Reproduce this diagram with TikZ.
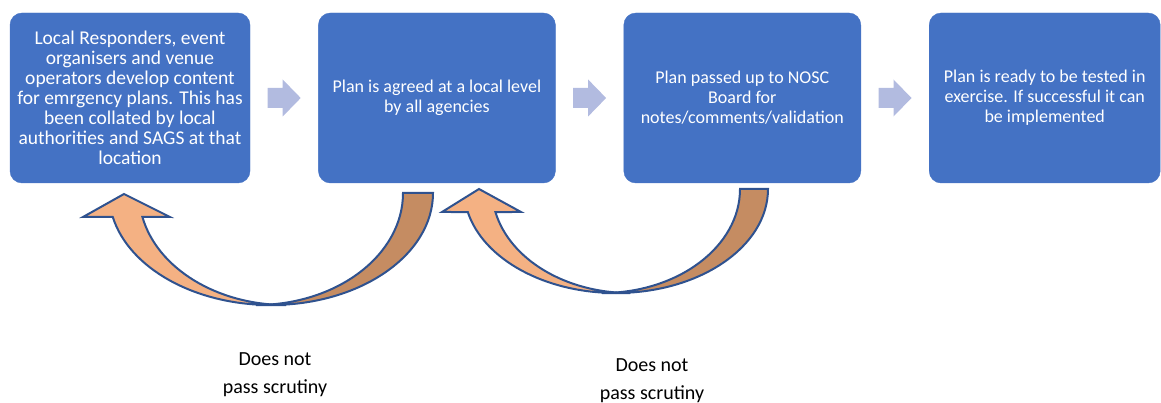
\documentclass[tikz,border=0pt]{standalone}
\usepackage{fontspec}
\setmainfont{Carlito}
\usepackage{tikz}
\usetikzlibrary{positioning,calc}
\definecolor{boxblue}{HTML}{4472C4}
\definecolor{edgeblue}{HTML}{2F528F}
\definecolor{arrowgrey}{RGB}{178,187,224}
\definecolor{frontorange}{HTML}{F4B183}
\definecolor{backorange}{RGB}{197,140,98}

\begin{document}
\begin{tikzpicture}[x=1pt,y=1pt,
    stepbox/.style={fill=boxblue, draw=boxblue, rounded corners=12pt, minimum height=170pt,
      text=white, align=center, inner sep=0pt, font=\fontsize{18}{20}\selectfont},
    frontface/.style={fill=frontorange, draw=edgeblue, line width=2pt},
    backface/.style={fill=backorange, draw=edgeblue, line width=2pt},
    note/.style={align=center, font=\fontsize{20}{28}\selectfont}]
  \useasboundingbox (0,0) rectangle (1161,-403);
  \node[stepbox, minimum width=240pt, font=\fontsize{19.5}{20}\selectfont] (b1) at (130,-98)
    {Local Responders, event\\organisers and venue\\operators develop content\\for emrgency plans. This has\\been collated by local\\authorities and SAGS at that\\location};
  \node[stepbox, minimum width=237pt, right=68pt of b1] (b2)
    {Plan is agreed at a local level\\by all agencies};
  \node[stepbox, minimum width=237pt, right=68pt of b2] (b3)
    {Plan passed up to NOSC\\Board for\\notes/comments/validation};
  \node[stepbox, minimum width=231pt, right=68pt of b3] (b4)
    {Plan is ready to be tested in\\exercise. If successful it can\\be implemented};
  \foreach \a/\b in {b1/b2,b2/b3,b3/b4} {
    \coordinate (g\a) at ($(\a.east)!0.5!(\b.west)$);
    \fill[arrowgrey] (g\a) ++(-16.5,10) -- ++(15,0) -- ++(0,8.5) -- ++(18,-18.5)
      -- ++(-18,-18.5) -- ++(0,8.5) -- ++(-15,0) -- cycle;
  }
  % back loops
  \filldraw[backface] (433,-193) arc[start angle=0,end angle=-90,x radius=162pt,y radius=112pt]
    -- ++(-15,0) arc[start angle=-90,end angle=0,x radius=147pt,y radius=112pt] -- cycle;
  \filldraw[frontface] ($(271,-193)+(192.37:162pt and 112pt)$)
    arc[start angle=192.37,end angle=270,x radius=162pt,y radius=112pt]
    -- ++(15,0) arc[start angle=270,end angle=192.37,x radius=147pt,y radius=112pt]
    -- (170,-217) -- (124,-194) -- (83,-217) -- cycle;
  \filldraw[backface] (768,-189) arc[start angle=0,end angle=-90,x radius=152pt,y radius=104pt]
    -- ++(-14,0) arc[start angle=-90,end angle=0,x radius=138pt,y radius=104pt] -- cycle;
  \filldraw[frontface] ($(616,-189)+(192.78:152pt and 104pt)$)
    arc[start angle=192.78,end angle=270,x radius=152pt,y radius=104pt]
    -- ++(14,0) arc[start angle=270,end angle=192.78,x radius=138pt,y radius=104pt]
    -- (521,-212) -- (479,-189) -- (442,-212) -- cycle;
  \node[note] (n1) at (275,-375) {Does not\\pass scrutiny};
  \node[note] (n2) at (652,-381) {Does not\\pass scrutiny};
\end{tikzpicture}
\end{document}
